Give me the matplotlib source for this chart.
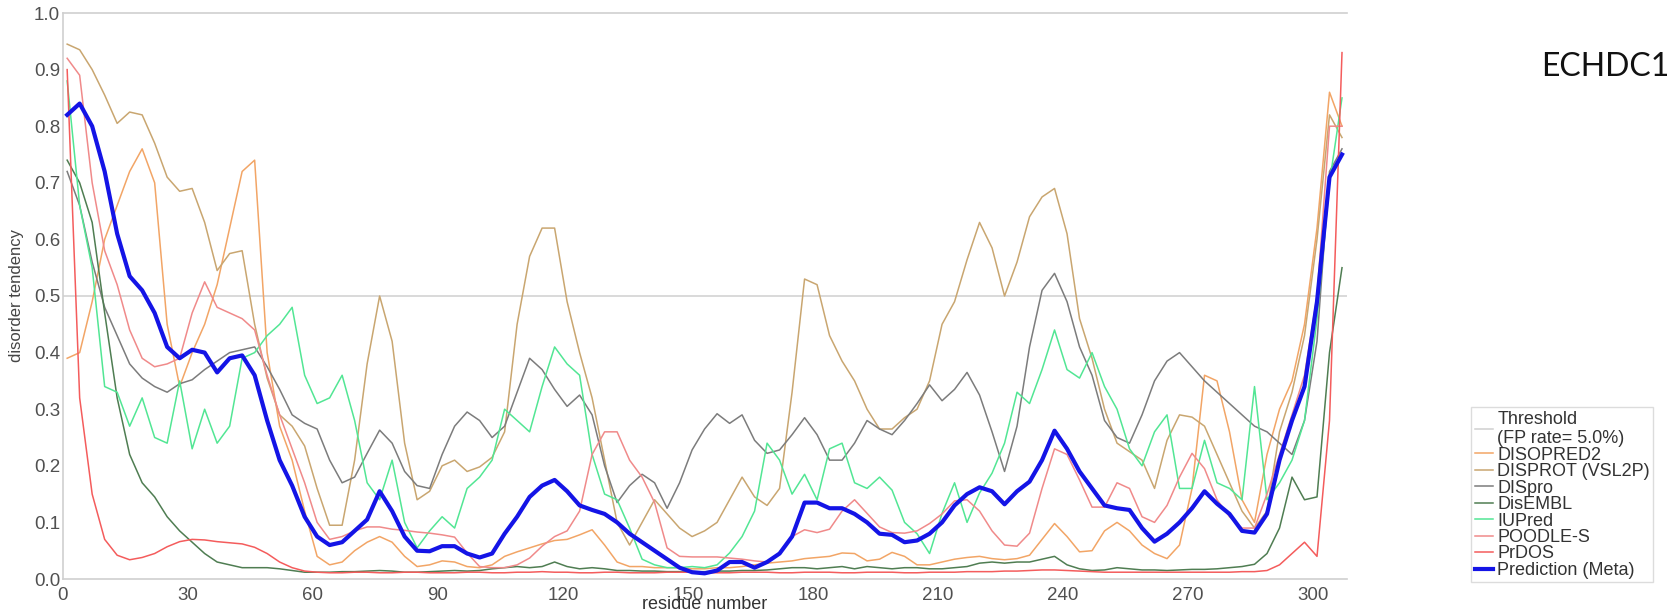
import matplotlib

matplotlib.use("Agg")
import matplotlib.pyplot as plt

# residue positions (every third residue of the 307-aa chain)
residue = list(range(1, 308, 3))

disopred2 = [
    0.39, 0.40, 0.49, 0.60, 0.66, 0.72, 0.76, 0.70, 0.45, 0.34,
    0.40, 0.45, 0.52, 0.62, 0.72, 0.74, 0.40, 0.27, 0.21, 0.12,
    0.04, 0.025, 0.03, 0.05, 0.065, 0.075, 0.065, 0.04, 0.022, 0.025,
    0.032, 0.03, 0.022, 0.02, 0.025, 0.04, 0.048, 0.055, 0.062, 0.068,
    0.07, 0.078, 0.087, 0.06, 0.03, 0.022, 0.022, 0.02, 0.02, 0.02,
    0.018, 0.018, 0.02, 0.02, 0.022, 0.025, 0.028, 0.03, 0.032, 0.036,
    0.038, 0.04, 0.046, 0.045, 0.032, 0.035, 0.047, 0.04, 0.025, 0.025,
    0.03, 0.035, 0.038, 0.04, 0.036, 0.034, 0.036, 0.042, 0.07, 0.098,
    0.075, 0.048, 0.05, 0.085, 0.10, 0.085, 0.06, 0.045, 0.036, 0.06,
    0.16, 0.36, 0.35, 0.26, 0.14, 0.10, 0.22, 0.30, 0.35, 0.45,
    0.62, 0.86, 0.80,
]
disprot = [
    0.945, 0.935, 0.90, 0.855, 0.805, 0.825, 0.82, 0.77, 0.71, 0.685,
    0.69, 0.63, 0.545, 0.575, 0.58, 0.45, 0.355, 0.29, 0.27, 0.235,
    0.16, 0.095, 0.095, 0.21, 0.38, 0.50, 0.42, 0.24, 0.14, 0.155,
    0.20, 0.21, 0.19, 0.198, 0.215, 0.26, 0.45, 0.57, 0.62, 0.62,
    0.49, 0.40, 0.32, 0.21, 0.10, 0.06, 0.10, 0.14, 0.115, 0.09,
    0.075, 0.085, 0.10, 0.14, 0.18, 0.145, 0.13, 0.16, 0.33, 0.53,
    0.52, 0.43, 0.385, 0.35, 0.30, 0.265, 0.265, 0.285, 0.30, 0.35,
    0.45, 0.49, 0.564, 0.63, 0.585, 0.50, 0.56, 0.64, 0.675, 0.69,
    0.61, 0.46, 0.39, 0.30, 0.24, 0.225, 0.21, 0.16, 0.245, 0.29,
    0.286, 0.27, 0.22, 0.17, 0.12, 0.09, 0.12, 0.26, 0.33, 0.43,
    0.60, 0.82, 0.78,
]
dispro = [
    0.72, 0.66, 0.56, 0.48, 0.43, 0.38, 0.355, 0.34, 0.33, 0.345,
    0.352, 0.37, 0.385, 0.40, 0.405, 0.41, 0.375, 0.335, 0.29, 0.275,
    0.265, 0.21, 0.17, 0.18, 0.222, 0.263, 0.24, 0.19, 0.165, 0.16,
    0.22, 0.27, 0.295, 0.28, 0.25, 0.27, 0.33, 0.39, 0.37, 0.335,
    0.305, 0.325, 0.29, 0.20, 0.135, 0.165, 0.185, 0.17, 0.125, 0.17,
    0.228, 0.265, 0.292, 0.275, 0.29, 0.245, 0.222, 0.228, 0.255, 0.285,
    0.255, 0.21, 0.21, 0.24, 0.28, 0.265, 0.255, 0.28, 0.31, 0.343,
    0.315, 0.335, 0.365, 0.325, 0.26, 0.19, 0.27, 0.41, 0.51, 0.54,
    0.49, 0.41, 0.36, 0.28, 0.25, 0.24, 0.29, 0.35, 0.385, 0.40,
    0.375, 0.35, 0.33, 0.31, 0.29, 0.27, 0.26, 0.24, 0.22, 0.28,
    0.42, 0.72, 0.76,
]
disembl = [
    0.74, 0.70, 0.63, 0.47, 0.32, 0.22, 0.17, 0.145, 0.11, 0.085,
    0.065, 0.045, 0.03, 0.025, 0.02, 0.02, 0.02, 0.018, 0.015, 0.012,
    0.012, 0.012, 0.013, 0.013, 0.014, 0.015, 0.014, 0.012, 0.012, 0.013,
    0.014, 0.015, 0.014, 0.015, 0.018, 0.02, 0.022, 0.02, 0.022, 0.03,
    0.022, 0.018, 0.02, 0.018, 0.015, 0.015, 0.014, 0.014, 0.013, 0.013,
    0.013, 0.013, 0.014, 0.014, 0.015, 0.015, 0.016, 0.018, 0.02, 0.02,
    0.018, 0.02, 0.022, 0.018, 0.022, 0.02, 0.018, 0.02, 0.02, 0.018,
    0.018, 0.02, 0.022, 0.028, 0.03, 0.028, 0.03, 0.03, 0.035, 0.04,
    0.025, 0.018, 0.015, 0.016, 0.02, 0.018, 0.016, 0.016, 0.015, 0.016,
    0.017, 0.017, 0.018, 0.02, 0.022, 0.026, 0.045, 0.09, 0.18, 0.14,
    0.145, 0.40, 0.55,
]
iupred = [
    0.88, 0.66, 0.55, 0.34, 0.33, 0.27, 0.32, 0.25, 0.24, 0.35,
    0.23, 0.30, 0.24, 0.27, 0.39, 0.40, 0.43, 0.45, 0.48, 0.36,
    0.31, 0.32, 0.36, 0.28, 0.17, 0.14, 0.21, 0.10, 0.055, 0.085,
    0.11, 0.09, 0.16, 0.18, 0.21, 0.30, 0.28, 0.26, 0.34, 0.41,
    0.38, 0.36, 0.22, 0.15, 0.14, 0.09, 0.035, 0.025, 0.02, 0.02,
    0.022, 0.02, 0.025, 0.046, 0.075, 0.12, 0.24, 0.21, 0.15, 0.185,
    0.14, 0.23, 0.24, 0.17, 0.16, 0.18, 0.157, 0.10, 0.08, 0.045,
    0.116, 0.17, 0.10, 0.152, 0.187, 0.24, 0.33, 0.31, 0.37, 0.44,
    0.37, 0.355, 0.40, 0.34, 0.30, 0.23, 0.20, 0.26, 0.29, 0.16,
    0.16, 0.245, 0.17, 0.16, 0.14, 0.34, 0.14, 0.17, 0.21, 0.28,
    0.46, 0.70, 0.85,
]
poodle_s = [
    0.92, 0.89, 0.70, 0.58, 0.52, 0.44, 0.39, 0.375, 0.38, 0.39,
    0.47, 0.525, 0.48, 0.47, 0.46, 0.44, 0.36, 0.29, 0.23, 0.17,
    0.10, 0.07, 0.075, 0.085, 0.092, 0.092, 0.088, 0.086, 0.083, 0.081,
    0.078, 0.074, 0.046, 0.022, 0.02, 0.02, 0.025, 0.037, 0.058, 0.075,
    0.085, 0.12, 0.22, 0.26, 0.26, 0.21, 0.18, 0.135, 0.055, 0.04,
    0.039, 0.039, 0.039, 0.037, 0.035, 0.032, 0.03, 0.045, 0.075, 0.087,
    0.082, 0.088, 0.12, 0.14, 0.116, 0.092, 0.082, 0.081, 0.085, 0.098,
    0.115, 0.138, 0.14, 0.12, 0.085, 0.06, 0.058, 0.081, 0.16, 0.23,
    0.22, 0.175, 0.127, 0.127, 0.17, 0.16, 0.11, 0.10, 0.13, 0.18,
    0.222, 0.195, 0.14, 0.11, 0.09, 0.09, 0.15, 0.22, 0.29, 0.36,
    0.50, 0.80, 0.80,
]
prdos = [
    0.90, 0.32, 0.15, 0.07, 0.042, 0.034, 0.038, 0.045, 0.057, 0.066,
    0.07, 0.069, 0.066, 0.064, 0.062, 0.056, 0.045, 0.03, 0.02, 0.014,
    0.012, 0.011, 0.011, 0.012, 0.012, 0.011, 0.011, 0.012, 0.012, 0.011,
    0.011, 0.011, 0.012, 0.012, 0.011, 0.011, 0.012, 0.012, 0.013, 0.012,
    0.012, 0.011, 0.011, 0.012, 0.012, 0.011, 0.011, 0.011, 0.012, 0.012,
    0.012, 0.011, 0.011, 0.011, 0.012, 0.012, 0.012, 0.011, 0.011, 0.012,
    0.012, 0.012, 0.011, 0.011, 0.012, 0.012, 0.012, 0.011, 0.011, 0.012,
    0.012, 0.012, 0.013, 0.013, 0.013, 0.014, 0.014, 0.015, 0.016, 0.016,
    0.015, 0.014, 0.013, 0.012, 0.012, 0.012, 0.012, 0.012, 0.012, 0.012,
    0.012, 0.012, 0.012, 0.012, 0.013, 0.013, 0.015, 0.025, 0.045, 0.065,
    0.04, 0.28, 0.93,
]
meta = [
    0.82, 0.84, 0.80, 0.72, 0.61, 0.535, 0.51, 0.47, 0.41, 0.39,
    0.405, 0.40, 0.365, 0.39, 0.395, 0.36, 0.28, 0.21, 0.165, 0.11,
    0.075, 0.06, 0.065, 0.085, 0.105, 0.155, 0.12, 0.075, 0.05, 0.049,
    0.058, 0.058, 0.045, 0.038, 0.045, 0.08, 0.11, 0.145, 0.165, 0.175,
    0.155, 0.13, 0.122, 0.115, 0.10, 0.08, 0.065, 0.05, 0.035, 0.02,
    0.012, 0.01, 0.015, 0.03, 0.03, 0.02, 0.03, 0.045, 0.075, 0.135,
    0.135, 0.125, 0.125, 0.115, 0.10, 0.08, 0.078, 0.065, 0.068, 0.08,
    0.10, 0.13, 0.15, 0.162, 0.155, 0.132, 0.155, 0.172, 0.21, 0.262,
    0.23, 0.19, 0.16, 0.13, 0.125, 0.122, 0.09, 0.066, 0.08, 0.10,
    0.125, 0.155, 0.133, 0.115, 0.085, 0.082, 0.115, 0.21, 0.28, 0.34,
    0.49, 0.71, 0.75,
]

threshold = 0.5
x_ticks = [0, 30, 60, 90, 120, 150, 180, 210, 240, 270, 300]
y_ticks = [0.0, 0.1, 0.2, 0.3, 0.4, 0.5, 0.6, 0.7, 0.8, 0.9, 1.0]

predictors = [
    ("DISOPRED2", disopred2, "#f2a566"),
    ("DISPROT (VSL2P)", disprot, "#c9a670"),
    ("DISpro", dispro, "#7c7c7c"),
    ("DisEMBL", disembl, "#4f7d52"),
    ("IUPred", iupred, "#52e694"),
    ("POODLE-S", poodle_s, "#f08a8a"),
    ("PrDOS", prdos, "#f45c5c"),
]

plt.rcParams["font.family"] = ["Liberation Sans", "DejaVu Sans"]

fig = plt.figure(figsize=(16.73, 6.16), dpi=100)
ax = fig.add_axes([63 / 1673, 37 / 616, 1284 / 1673, 566 / 616])

grid_grey = "#cfcfcf"
thr_line = ax.axhline(threshold, color=grid_grey, lw=1.1, zorder=1)

handles = [thr_line]
labels = ["Threshold\n(FP rate= 5.0%)"]
for name, values, color in predictors:
    (ln,) = ax.plot(residue, values, color=color, lw=1.1, zorder=2)
    handles.append(ln)
    labels.append(name)

(meta_ln,) = ax.plot(residue, meta, color="#1414e6", lw=3.0, zorder=3)
handles.append(meta_ln)
labels.append("Prediction (Meta)")

ax.set_xlim(0, 308.2)
ax.set_ylim(0, 1.0)
ax.set_xticks(x_ticks)
ax.set_yticks(y_ticks)
ax.set_yticklabels([f"{v:.1f}" for v in y_ticks])
ax.tick_params(length=0, labelsize=13.5, labelcolor="#505050")
ax.tick_params(axis="x", pad=6)
ax.tick_params(axis="y", pad=2)

for side in ("top", "left", "bottom"):
    ax.spines[side].set_color(grid_grey)
    ax.spines[side].set_linewidth(1.2)
ax.spines["right"].set_visible(False)

ax.set_ylabel("disorder tendency", fontsize=12, color="#444444")
ax.yaxis.set_label_coords(-0.03, 0.5)
ax.set_xlabel("residue number", fontsize=13, color="#333333")
ax.xaxis.set_label_coords(0.5, -0.03)

leg = fig.legend(
    handles,
    labels,
    loc="upper left",
    bbox_to_anchor=(1471 / 1673, 1 - 407 / 616),
    fontsize=13,
    frameon=True,
    fancybox=False,
    edgecolor="#d4d4d4",
    handlelength=1.0,
    handletextpad=0.25,
    labelspacing=-0.03,
    borderpad=0.2,
    borderaxespad=0,
)
leg.get_frame().set_linewidth(1.0)
for t in leg.get_texts():
    t.set_color("#333333")

fig.text(1669 / 1673, 1 - 67 / 616, "ECHDC1", fontsize=23, family="Lato",
         ha="right", va="center", color="#111111")

fig.savefig("out.png", dpi=100, facecolor="white")
